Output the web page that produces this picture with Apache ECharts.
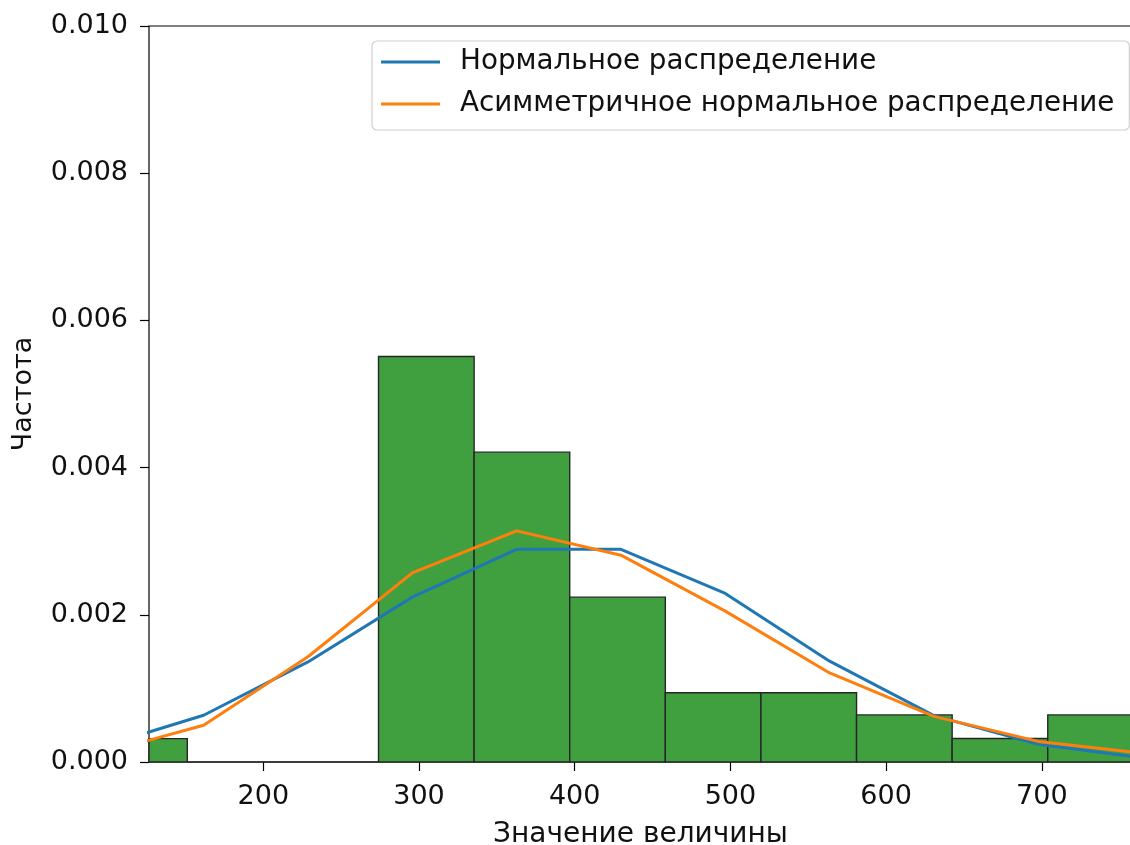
<!DOCTYPE html>
<html>
<head>
<meta charset="utf-8">
<script src="https://cdn.jsdelivr.net/npm/echarts@6/dist/echarts.min.js"></script>
<style>
* { margin: 0; padding: 0; }
html, body { width: 1130px; height: 845px; background: #fff; overflow: hidden; }
#chart { width: 1130px; height: 845px; }
</style>
</head>
<body>
<div id="chart"></div>
<script>
// histogram bins (edges) and their densities
var binEdges = [89.8, 151.2, 212.6, 274.0, 335.4, 396.8, 458.2, 519.6, 581.0, 642.4, 703.8, 765.2];
var binDensity = [0.000318, 0, 0, 0.00551, 0.00421, 0.00224, 0.00094, 0.00094, 0.00064, 0.00032, 0.00064];

// curve points
var curveX = [94.7, 161.7, 228.7, 295.7, 362.7, 429.7, 496.7, 563.7, 630.7, 697.7, 764.7];
var normalY = [0.00020, 0.000635, 0.00136, 0.00224, 0.00289, 0.00289, 0.00229, 0.00137, 0.00063, 0.00024, 0.000056];
var skewY = [0.00011, 0.00050, 0.00143, 0.00257, 0.00314, 0.00281, 0.00205, 0.00121, 0.00062, 0.00028, 0.00012];

var xTicks = [200, 300, 400, 500, 600, 700];

var seriesNames = ["Нормальное распределение", "Асимметричное нормальное распределение"];

var FONT = "DejaVu Sans";
var TXT = "#111";

var bars = binDensity.map(function (d, i) {
  return [binEdges[i], binEdges[i + 1], d];
});

function pairs(xs, ys) {
  return xs.map(function (x, i) { return [x, ys[i]]; });
}

var chart = echarts.init(document.getElementById("chart"));
chart.setOption({
  animation: false,
  backgroundColor: "#fff",
  textStyle: { fontFamily: FONT },
  grid: {
    left: 149,
    top: 26,
    right: -2,
    bottom: 83,
    containLabel: false,
    outerBoundsMode: "none",
    show: true,
    borderColor: "#000",
    borderWidth: 1.2,
    backgroundColor: "transparent"
  },
  legend: {
    orient: "vertical",
    left: 372,
    top: 41,
    data: seriesNames,
    icon: "rect",
    itemWidth: 59,
    itemHeight: 3,
    itemGap: 14,
    padding: [7, 15, 12, 9],
    backgroundColor: "rgba(255,255,255,0.8)",
    borderColor: "#d0d0d0",
    borderWidth: 1.2,
    borderRadius: 5,
    textStyle: {
      fontFamily: FONT,
      fontSize: 27.8,
      lineHeight: 28,
      color: TXT,
      padding: [0, 0, 0, 15]
    }
  },
  xAxis: {
    type: "value",
    min: 126.6,
    max: 757.9,
    name: "Значение величины",
    nameLocation: "middle",
    nameGap: 59,
    nameTextStyle: { fontFamily: FONT, fontSize: 28, color: TXT },
    axisLine: { show: false },
    splitLine: { show: false },
    axisTick: {
      show: true,
      length: 9,
      customValues: xTicks,
      lineStyle: { color: "#000", width: 1.2 }
    },
    axisLabel: {
      customValues: xTicks,
      margin: 21,
      fontFamily: FONT,
      fontSize: 27,
      color: TXT
    }
  },
  yAxis: {
    type: "value",
    min: 0,
    max: 0.01,
    interval: 0.002,
    name: "Частота",
    nameLocation: "middle",
    nameGap: 112,
    nameTextStyle: { fontFamily: FONT, fontSize: 27, color: TXT },
    axisLine: { show: false },
    splitLine: { show: false },
    axisTick: {
      show: true,
      length: 9,
      lineStyle: { color: "#000", width: 1.2 }
    },
    axisLabel: {
      margin: 21,
      fontFamily: FONT,
      fontSize: 27,
      color: TXT,
      formatter: function (v) { return v.toFixed(3); }
    }
  },
  series: [
    {
      type: "custom",
      z: 1,
      data: bars,
      renderItem: function (params, api) {
        var p0 = api.coord([api.value(0), api.value(2)]);
        var p1 = api.coord([api.value(1), 0]);
        var rect = echarts.graphic.clipRectByRect(
          { x: p0[0], y: p0[1], width: p1[0] - p0[0], height: p1[1] - p0[1] },
          {
            x: params.coordSys.x,
            y: params.coordSys.y,
            width: params.coordSys.width,
            height: params.coordSys.height
          }
        );
        if (!rect) return;
        return {
          type: "rect",
          shape: rect,
          style: { fill: "#40a040", stroke: "#262626", lineWidth: 1.4 }
        };
      }
    },
    {
      name: seriesNames[0],
      type: "line",
      z: 3,
      data: pairs(curveX, normalY),
      showSymbol: false,
      clip: true,
      color: "#1f77b4",
      lineStyle: { color: "#1f77b4", width: 3 }
    },
    {
      name: seriesNames[1],
      type: "line",
      z: 4,
      data: pairs(curveX, skewY),
      showSymbol: false,
      clip: true,
      color: "#ff7f0e",
      lineStyle: { color: "#ff7f0e", width: 3 }
    }
  ]
});
</script>
</body>
</html>
